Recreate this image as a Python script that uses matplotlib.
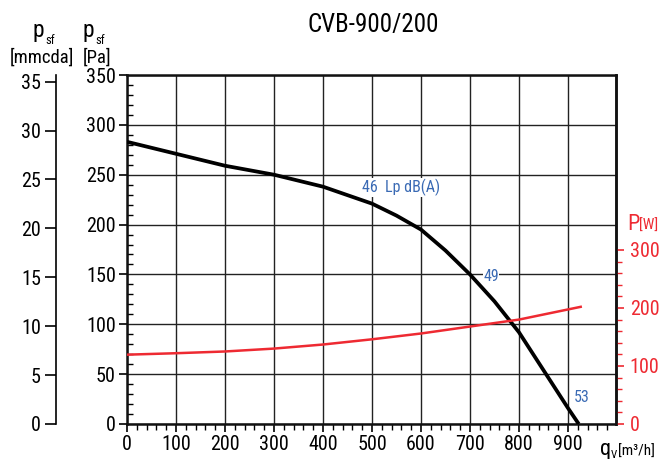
import numpy as np
import matplotlib
matplotlib.use("Agg")
import matplotlib.pyplot as plt
from matplotlib import font_manager
from matplotlib.ticker import MultipleLocator, FixedLocator

# pick a narrow font if one exists, the reference uses a condensed face
narrow = None
for f in font_manager.fontManager.ttflist:
    if f.name in ('Roboto Condensed', 'Liberation Sans Narrow'):
        narrow = f.name
        break
stretch = 'normal'
if narrow is None:
    for f in font_manager.fontManager.ttflist:
        if f.name == 'DejaVu Sans' and f.stretch in ('condensed', 'semi-condensed') and f.weight in (400, 'normal'):
            narrow = 'DejaVu Sans'
            stretch = 'condensed'
            break
if narrow is None:
    narrow = 'DejaVu Sans'
plt.rcParams['font.family'] = [narrow, 'DejaVu Sans']
plt.rcParams['font.stretch'] = stretch

# data
q_press = [0, 100, 200, 300, 400, 500, 550, 600, 650, 700, 750, 800, 850, 900, 922]
p_sf = [283, 271, 259, 250, 238, 221, 209, 195, 174, 150, 123, 92, 54, 16, 0]

q_power = [0, 100, 200, 300, 400, 500, 600, 700, 800, 926]
power_w = [119.5, 122, 125, 130, 137, 146, 156, 168, 180, 202]

x_ticks = [0, 100, 200, 300, 400, 500, 600, 700, 800, 900]
pa_ticks = [0, 50, 100, 150, 200, 250, 300, 350]
mm_ticks = [0, 5, 10, 15, 20, 25, 30, 35]
w_ticks = [0, 100, 200, 300]

noise_labels = ["46  Lp dB(A)", "49", "53"]
noise_pos = [(480, 237), (727, 148), (912, 27)]

red = '#ee2a32'
blue = '#3a6ab4'
fs = 14.5

fig = plt.figure(figsize=(6.59, 4.59), dpi=100)
ax = fig.add_axes([0.1927, 0.0763, 0.742, 0.7603])

ax.set_xlim(0, 998)
ax.set_ylim(0, 350)
ax.set_xticks(x_ticks)
ax.set_yticks(pa_ticks)
ax.xaxis.set_minor_locator(MultipleLocator(20))
ax.yaxis.set_minor_locator(MultipleLocator(10))
ax.grid(True, which='major', color='#222222', lw=1.0)
ax.tick_params(which='major', direction='out', length=6, width=1.2, labelsize=fs, pad=2)
ax.tick_params(axis='y', which='minor', direction='in', length=4, width=1)
ax.tick_params(axis='x', which='minor', direction='out', length=4, width=1)
for s in ax.spines.values():
    s.set_linewidth(1.8)
    s.set_color('#111111')

ax.plot(q_press, p_sf, color='black', lw=2.7, solid_capstyle='butt', zorder=5)

for txt, (xq, yp) in zip(noise_labels, noise_pos):
    ax.text(xq, yp, txt, color=blue, fontsize=11.5, ha='left', va='center',
            zorder=6, bbox=dict(facecolor='white', edgecolor='none', pad=0.5))

# mmcda axis
ax_m = ax.twinx()
ax_m.set_ylim(0, 350 / 9.81)
ax_m.yaxis.set_ticks_position('left')
ax_m.yaxis.set_label_position('left')
ax_m.spines['left'].set_position(('outward', 51))
ax_m.spines['left'].set_visible(True)
for side in ['right', 'top', 'bottom']:
    ax_m.spines[side].set_visible(False)
ax_m.spines['left'].set_linewidth(1.2)
ax_m.set_yticks(mm_ticks)
ax_m.tick_params(axis='y', direction='out', length=8, width=1.2, labelsize=fs, pad=3)

# power axis
ax_p = ax.twinx()
ax_p.set_ylim(0, 349 / 0.58)
ax_p.yaxis.set_major_locator(FixedLocator(w_ticks))
ax_p.yaxis.set_minor_locator(FixedLocator(np.arange(0, 301, 20)))
ax_p.tick_params(axis='y', which='major', direction='out', length=6, width=1.2,
                 colors=red, labelsize=fs, pad=4)
ax_p.tick_params(axis='y', which='minor', direction='out', length=4, width=1, colors=red)
for side in ['left', 'top', 'bottom']:
    ax_p.spines[side].set_visible(False)
ax_p.spines['right'].set_linewidth(1.8)
ax_p.spines['right'].set_color('#111111')
ax_p.plot(q_power, power_w, color=red, lw=1.8, zorder=4)


def put(x, y, s, **kw):
    fig.text(x / 659, 1 - y / 459, s, va='center', **kw)


# titles and axis captions
put(373, 25, "CVB-900/200", ha='center', fontsize=18)
put(33, 31, "p", ha='left', fontsize=17)
put(45, 41, "sf", ha='left', fontsize=9)
put(42, 58, "[mmcda]", ha='center', fontsize=13.5)
put(83, 31, "p", ha='left', fontsize=17)
put(95, 41, "sf", ha='left', fontsize=9)
put(83, 58, "[Pa]", ha='left', fontsize=13.5)
put(627, 224, "P", ha='left', fontsize=16, color=red)
put(639, 226, "[W]", ha='left', fontsize=11, color=red)
put(600, 450, "q", ha='left', fontsize=16)
put(611, 455, "V", ha='left', fontsize=8)
put(618, 452, "[m³/h]", ha='left', fontsize=11)

fig.savefig("out.png", dpi=100)
